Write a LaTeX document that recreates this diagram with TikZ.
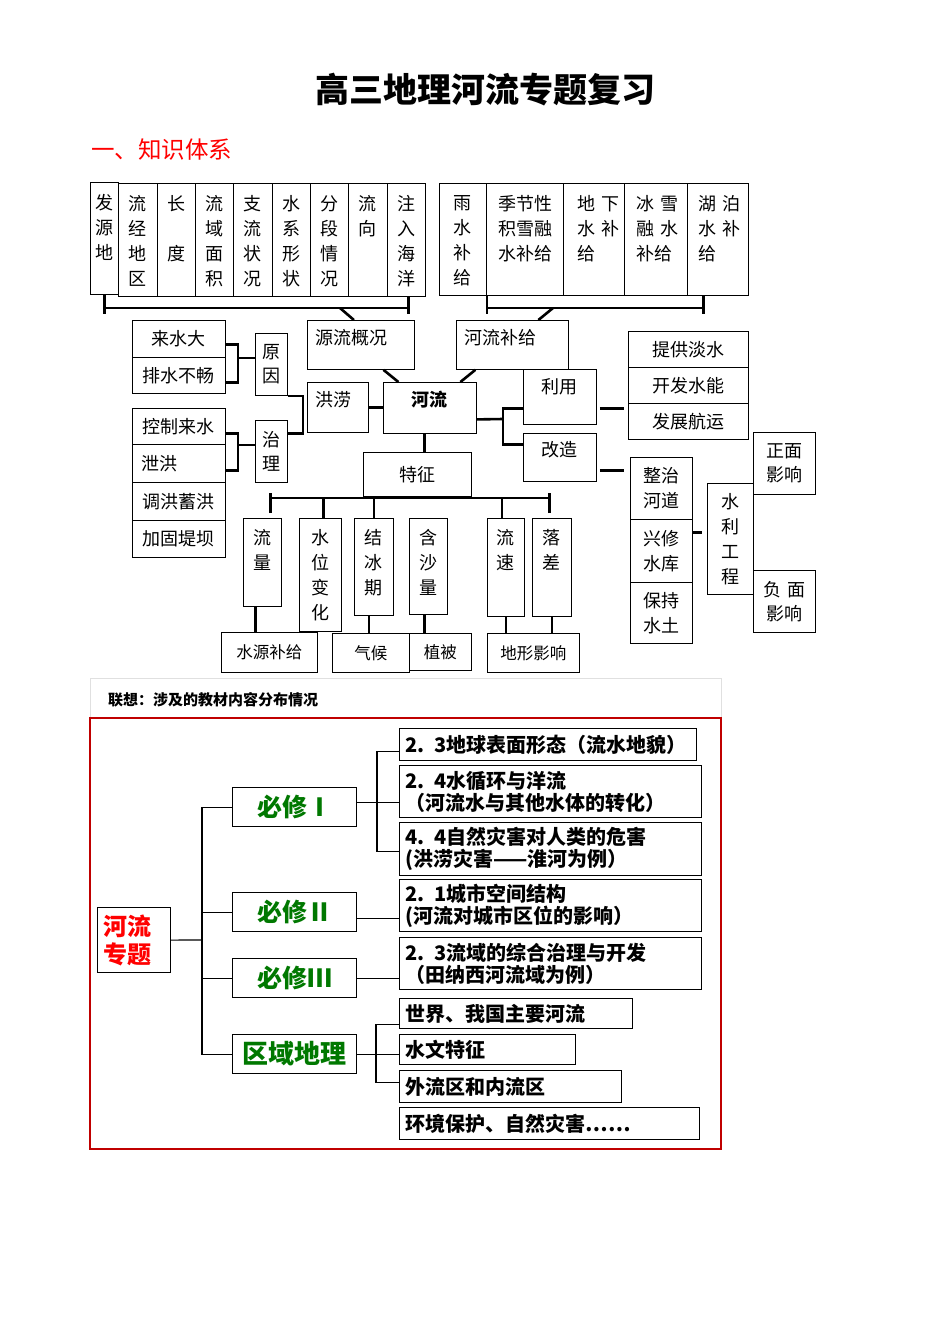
\documentclass[tikz,border=0pt]{standalone}
\usepackage{fontspec}
\setmainfont{Noto Sans CJK SC}
\definecolor{hongse}{RGB}{255,0,0}
\definecolor{kuanghong}{RGB}{192,0,0}
\definecolor{lvse}{RGB}{0,120,0}
\tikzset{
  cell/.style={draw, line width=0.8pt, anchor=north west, inner sep=0pt, align=center, font=\fontsize{18}{24}\selectfont},
  coltxt/.style={anchor=north, yshift=-12pt, align=center, inner sep=0pt, font=\fontsize{18}{25}\selectfont},
  lefttxt/.style={anchor=north west, yshift=-12pt, align=left, inner sep=0pt, font=\fontsize{18}{25}\selectfont},
  link/.style={line width=2.6pt},
  tie/.style={line width=1.1pt},
  kebox/.style={draw, line width=1.1pt, anchor=north west, align=left, inner xsep=6pt, inner ysep=1pt, font=\bfseries\fontsize{20}{22}\selectfont},
  bxbox/.style={draw, line width=1.1pt, anchor=north west, minimum width=124pt, minimum height=39pt, inner sep=0pt, text=lvse, font=\bfseries\fontsize{25}{25}\selectfont}
}
\begin{document}
\begin{tikzpicture}[x=1pt, y=-1pt]
\useasboundingbox (0,0) rectangle (950,1344);

% title
\node[font=\bfseries\fontsize{34}{34}\selectfont] (biaoti) at (485,90) {高三地理河流专题复习};
\node[anchor=west, inner sep=0pt, text=hongse, font=\fontsize{23.5}{24}\selectfont] (tixi) at (91,150) {一、知识体系};

% source columns
\node[cell, minimum width=28pt, minimum height=112pt, label={[coltxt]north:{发\\源\\地}}] (fayuan) at (90,182) {};
\node[cell, minimum width=39pt, minimum height=113pt, label={[coltxt]north:{流\\经\\地\\区}}] (liujing) at (118,183) {};
\node[cell, minimum width=38pt, minimum height=113pt, label={[coltxt]north:{长\\[25pt]度}}] (changdu) at (157,183) {};
\node[cell, minimum width=38pt, minimum height=113pt, label={[coltxt]north:{流\\域\\面\\积}}] (mianji) at (195,183) {};
\node[cell, minimum width=39pt, minimum height=113pt, label={[coltxt]north:{支\\流\\状\\况}}] (zhiliu) at (233,183) {};
\node[cell, minimum width=38pt, minimum height=113pt, label={[coltxt]north:{水\\系\\形\\状}}] (shuixi) at (272,183) {};
\node[cell, minimum width=38pt, minimum height=113pt, label={[coltxt]north:{分\\段\\情\\况}}] (fenduan) at (310,183) {};
\node[cell, minimum width=39pt, minimum height=113pt, label={[coltxt]north:{流\\向}}] (liuxiang) at (348,183) {};
\node[cell, minimum width=38pt, minimum height=113pt, label={[coltxt]north:{注\\入\\海\\洋}}] (zhuru) at (387,183) {};

% supply columns
\node[cell, minimum width=47pt, minimum height=112pt, label={[coltxt]north:{雨\\水\\补\\给}}] (yushui) at (439,183) {};
\node[cell, minimum width=77pt, minimum height=112pt, label={[lefttxt, xshift=12pt]north west:{季节性\\积雪融\\水补给}}] (jijie) at (486,183) {};
\node[cell, minimum width=61pt, minimum height=112pt, label={[lefttxt, xshift=14pt]north west:{地\hspace{6pt}下\\水\hspace{6pt}补\\给}}] (dixia) at (563,183) {};
\node[cell, minimum width=63pt, minimum height=112pt, label={[lefttxt, xshift=12pt]north west:{冰\hspace{6pt}雪\\融\hspace{6pt}水\\补给}}] (bingxue) at (624,183) {};
\node[cell, minimum width=61pt, minimum height=112pt, label={[lefttxt, xshift=11pt]north west:{湖\hspace{6pt}泊\\水\hspace{6pt}补\\给}}] (hupo) at (687,183) {};

% brackets under the columns
\coordinate (zuoheng) at (0,308);
\coordinate (zuozhe) at (340,308);
\coordinate (youzhe) at (553,308);
\draw[link] (fayuan.south) -- ++(0,19);
\draw[link] ([xshift=2pt]zhuru.south) -- ++(0,17);
\draw[link] (fayuan.south |- zuoheng) -- ([xshift=2pt]zhuru.south |- zuoheng);
\draw[link] (yushui.south east) -- ++(0,18);
\draw[link] ([xshift=-14.5pt]hupo.south) -- ++(0,18);
\draw[link] (yushui.south east |- zuoheng) -- ([xshift=-14.5pt]hupo.south |- zuoheng);

% middle boxes
\node[cell, minimum width=107pt, minimum height=49pt, label={[lefttxt, xshift=8pt, yshift=3pt]north west:源流概况}] (yuanliu) at (307,320) {};
\node[cell, minimum width=112pt, minimum height=49pt, label={[lefttxt, xshift=8pt, yshift=3pt]north west:河流补给}] (buji) at (456,320) {};
\node[cell, minimum width=61pt, minimum height=50pt, label={[lefttxt, xshift=8pt, yshift=3pt]north west:洪涝}] (hongtao) at (307,382) {};
\node[cell, minimum width=93pt, minimum height=51pt, label={[coltxt, yshift=3pt, font=\bfseries\fontsize{18}{25}\selectfont]north:河流}] (heliu) at (383,382) {};
\node[cell, minimum width=108pt, minimum height=44pt] (tezheng) at (363,452) {特征};
\draw[link] (zuozhe) -- ([xshift=-7pt]yuanliu.north);
\draw[link] (youzhe) -- ([xshift=26pt]buji.north);
\draw[link] ([xshift=22.5pt]yuanliu.south) -- ([xshift=-31.5pt]heliu.north);
\draw[link] ([xshift=-37pt]buji.south) -- ([xshift=30.5pt]heliu.north);
\draw[link] (hongtao.east) -- (hongtao.east -| heliu.west);
\draw[link] ([xshift=-5.5pt]heliu.south) -- ([xshift=-5.5pt]heliu.south |- tezheng.north);

% flood
\node[cell, minimum width=93pt, minimum height=37pt] (laishui) at (132,320) {来水大};
\node[cell, minimum width=93pt, minimum height=36pt] (paishui) at (132,357) {排水不畅};
\node[cell, minimum width=32pt, minimum height=62pt] (yuanyin) at (255,333) {原\\因};
\node[cell, minimum width=93pt, minimum height=36pt] (kongzhi) at (132,408) {控制来水};
\node[cell, minimum width=93pt, minimum height=38pt, text width=75pt, inner xsep=9pt, align=left] (xiehong) at (132,444) {泄洪};
\node[cell, minimum width=93pt, minimum height=38pt] (tiaohong) at (132,482) {调洪蓄洪};
\node[cell, minimum width=93pt, minimum height=37pt] (jiagu) at (132,520) {加固堤坝};
\node[cell, minimum width=32pt, minimum height=62pt] (zhili) at (255,420) {治\\理};
\coordinate (zy) at (238,358);
\coordinate (zl) at (238,445);
\draw[link] ([yshift=-5.5pt]laishui.east) -| (zy) |- ([yshift=-7pt]paishui.east);
\draw[link] (zy) -- (zy -| yuanyin.west);
\draw[link] ([yshift=-7pt]kongzhi.east) -| (zl) |- ([yshift=-7pt]xiehong.east);
\draw[link] (zl) -- (zl -| zhili.west);
\draw[link] (yuanyin.south east) -- ++(15,0) |- ([yshift=18pt]zhili.east);

% features
\node[cell, minimum width=38pt, minimum height=88pt, label={[coltxt, yshift=1pt]north:{流\\量}}] (liuliang) at (243,518) {};
\node[cell, minimum width=42pt, minimum height=113pt, label={[coltxt, yshift=1pt]north:{水\\位\\变\\化}}] (shuiwei) at (299,518) {};
\node[cell, minimum width=39pt, minimum height=97pt, label={[coltxt, yshift=1pt]north:{结\\冰\\期}}] (jiebing) at (354,518) {};
\node[cell, minimum width=38pt, minimum height=96pt, label={[coltxt, yshift=1pt]north:{含\\沙\\量}}] (hansha) at (409,518) {};
\node[cell, minimum width=37pt, minimum height=98pt, label={[coltxt, yshift=1pt]north:{流\\速}}] (liusu) at (487,518) {};
\node[cell, minimum width=39pt, minimum height=98pt, label={[coltxt, yshift=1pt]north:{落\\差}}] (luocha) at (532,518) {};
\coordinate (fl) at (270,498);
\coordinate (fr) at (549,498);
\draw[link] (fl) -- (fr);
\draw[link] ([xshift=8pt, yshift=5pt]liuliang.north) -- ++(0,-20);
\draw[link] ([xshift=-2.5pt, yshift=5pt]luocha.north) -- ++(0,-20);
\draw[link] ([xshift=3pt]shuiwei.north |- fl) -- ([xshift=3pt]shuiwei.north);
\draw[link] (jiebing.north |- fl) -- (jiebing.north);
\draw[link] ([xshift=-4pt]liusu.north |- fl) -- ([xshift=-4pt]liusu.north);

% causes
\node[cell, minimum width=96pt, minimum height=40pt, font=\fontsize{16.5}{20}\selectfont] (shuiyuan) at (221,632) {水源补给};
\node[cell, minimum width=77pt, minimum height=39pt, font=\fontsize{16.5}{20}\selectfont] (qihou) at (332,633) {气候};
\node[cell, minimum width=62pt, minimum height=37pt, font=\fontsize{16.5}{20}\selectfont] (zhibei) at (409,633) {植被};
\node[cell, minimum width=92pt, minimum height=39pt, font=\fontsize{16.5}{20}\selectfont] (dixing) at (487,633) {地形影响};
\draw[link] ([xshift=-7pt]liuliang.south) -- ([xshift=-7pt]liuliang.south |- shuiyuan.north);
\draw[link] ([xshift=-5pt]jiebing.south) -- ([xshift=-5pt]jiebing.south |- qihou.north);
\draw[link] ([xshift=-4pt]hansha.south) -- ([xshift=-4pt]hansha.south |- zhibei.north);
\draw[link] (liusu.south) -- (liusu.south |- dixing.north);
\draw[link] (luocha.south) -- (luocha.south |- dixing.north);

% use and change
\node[cell, minimum width=73pt, minimum height=55pt, label={[coltxt, yshift=3pt]north:利用}] (liyong) at (523,369) {};
\node[cell, minimum width=73pt, minimum height=48pt, label={[coltxt, yshift=4pt]north:改造}] (gaizao) at (523,433) {};
\coordinate (yz) at (503,419);
\draw[link] ([yshift=-11.5pt]heliu.east) -- (yz);
\draw[link] ([yshift=-11.5pt]liyong.west) -| (yz) |- ([yshift=13pt]gaizao.west);
\node[cell, minimum width=120pt, minimum height=36pt] (tigong) at (628,331) {提供淡水};
\node[cell, minimum width=120pt, minimum height=36pt] (kaifa) at (628,367) {开发水能};
\node[cell, minimum width=120pt, minimum height=36pt] (fazhan) at (628,403) {发展航运};
\draw[link, shorten <=3pt, shorten >=4pt] ([yshift=-11.5pt]liyong.east) -- ([yshift=-11.5pt]liyong.east -| fazhan.west);
\node[cell, minimum width=62pt, minimum height=62pt, font=\fontsize{18}{25}\selectfont] (zhengzhi) at (630,457) {整治\\河道};
\node[cell, minimum width=62pt, minimum height=63pt, font=\fontsize{18}{25}\selectfont] (xingxiu) at (630,519) {兴修\\水库};
\node[cell, minimum width=62pt, minimum height=61pt, font=\fontsize{18}{25}\selectfont] (baochi) at (630,582) {保持\\水土};
\draw[link, shorten <=3pt, shorten >=6pt] ([yshift=-13pt]gaizao.east) -- ([yshift=-13pt]gaizao.east -| zhengzhi.west);
\node[cell, minimum width=46pt, minimum height=111pt, font=\fontsize{18}{25}\selectfont] (shuili) at (707,483) {水\\利\\工\\程};
\draw[link, shorten >=5pt] ([yshift=18.5pt]xingxiu.east) -- ([yshift=18.5pt]xingxiu.east -| shuili.west);
\node[cell, minimum width=62pt, minimum height=62pt] (zhengmian) at (753,432) {正面\\影响};
\node[cell, minimum width=62pt, minimum height=62pt] (fumian) at (753,570) {负\hspace{6pt}面\\影响};

% textbook links
\node[anchor=west, inner sep=0pt, font=\bfseries\fontsize{15}{15}\selectfont] (lianxiang) at (108,700) {联想：涉及的教材内容分布情况};
\draw[black!12] (90,718) -- (90,678) -- (721,678) -- (721,718);
\draw[kuanghong, line width=1.6pt] (90,718) rectangle (721,1149);

\node[draw, line width=1.1pt, anchor=north west, minimum width=73pt, minimum height=65pt, inner xsep=6pt, inner ysep=0pt, text width=61pt, align=left, text=hongse, font=\bfseries\fontsize{24}{28}\selectfont] (zhuanti) at (97,907) {河流\\专题};
\node[bxbox] (bixiu1) at (232,787) {必修Ⅰ};
\node[bxbox] (bixiu2) at (232,892) {必修Ⅱ};
\node[bxbox] (bixiu3) at (232,958) {必修Ⅲ};
\node[bxbox, font=\bfseries\fontsize{26}{26}\selectfont] (quyu) at (232,1034) {区域地理};

\node[kebox, minimum width=297pt, minimum height=32pt, text width=285pt] (b23) at (399,728) {2. 3地球表面形态（流水地貌）};
\node[kebox, minimum width=302pt, minimum height=52pt, text width=290pt] (b24) at (399,765) {2. 4水循环与洋流\\（河流水与其他水体的转化）};
\node[kebox, minimum width=302pt, minimum height=53pt, text width=290pt] (b44) at (399,822) {4. 4自然灾害对人类的危害\\(洪涝灾害——淮河为例）};
\node[kebox, minimum width=302pt, minimum height=52pt, text width=290pt] (b21) at (399,879) {2. 1城市空间结构\\(河流对城市区位的影响）};
\node[kebox, minimum width=302pt, minimum height=52pt, text width=290pt] (b23b) at (399,937) {2. 3流域的综合治理与开发\\（田纳西河流域为例）};
\node[kebox, minimum width=233pt, minimum height=30pt, text width=221pt] (shijie) at (399,998) {世界、我国主要河流};
\node[kebox, minimum width=176pt, minimum height=30pt, text width=164pt] (shuiwen) at (399,1034) {水文特征};
\node[kebox, minimum width=222pt, minimum height=32pt, text width=210pt] (wailiu) at (399,1070) {外流区和内流区};
\node[kebox, minimum width=300pt, minimum height=32pt, text width=288pt] (huanjing) at (399,1107) {环境保护、自然灾害……};

\coordinate (gan) at (202,940);
\coordinate (k1) at (377,802);
\coordinate (k4) at (376,1054);
\draw[tie] (zhuanti.east) -- (gan);
\draw[tie] (bixiu1.west) -| (gan) |- (quyu.west);
\draw[tie] (bixiu2.west) -- (bixiu2.west -| gan);
\draw[tie] (bixiu3.west) -- (bixiu3.west -| gan);
\draw[tie] ([yshift=4.5pt]bixiu1.east) -- ([yshift=4.5pt]bixiu1.east -| b24.west);
\draw[tie] ([yshift=-7pt]b23.west) -| (k1) |- ([yshift=-2.5pt]b44.west);
\draw[tie] ([yshift=-6.5pt]bixiu2.east) -- ([yshift=-6.5pt]bixiu2.east -| b21.west);
\draw[tie] (bixiu3.east) -- (bixiu3.east -| b23b.west);
\draw[tie] (quyu.east) -- (quyu.east -| shuiwen.west);
\draw[tie] ([yshift=-11pt]shijie.west) -| (k4) |- ([yshift=4pt]wailiu.west);

\end{tikzpicture}
\end{document}
